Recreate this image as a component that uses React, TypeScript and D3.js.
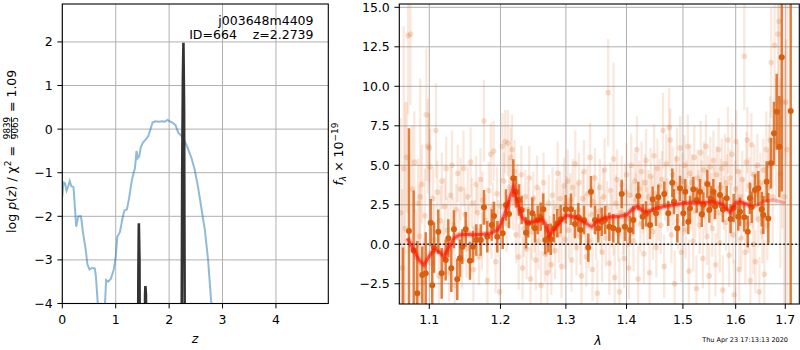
import React from 'react';
import * as d3 from 'd3';

// ---- left panel: redshift fit ----
const zGrid = [0.0, 0.02, 0.05, 0.08, 0.11, 0.14, 0.17, 0.21, 0.24, 0.26, 0.3, 0.35, 0.39, 0.44, 0.47, 0.51, 0.56, 0.61, 0.63, 0.67, 0.72, 0.77, 0.8, 0.82, 0.86, 0.91, 0.96, 1.0, 1.03, 1.08, 1.12, 1.16, 1.21, 1.25, 1.3, 1.34, 1.36, 1.39, 1.41, 1.44, 1.47, 1.51, 1.56, 1.61, 1.65, 1.69, 1.74, 1.81, 1.87, 1.92, 1.97, 2.01, 2.06, 2.12, 2.17, 2.22, 2.28, 2.34, 2.42, 2.48, 2.54, 2.6, 2.67, 2.73, 2.79, 2.85];
const chi2Curve = [-1.55, -1.22, -1.24, -1.41, -1.31, -1.19, -1.31, -1.33, -1.86, -2.24, -2.0, -2.0, -2.39, -2.78, -3.1, -3.22, -3.18, -3.2, -3.39, -4.1, -4.8, -4.6, -4.0, -3.46, -3.5, -3.43, -3.24, -2.93, -2.47, -2.36, -2.09, -1.87, -1.84, -1.59, -1.19, -0.98, -0.9, -0.5, -0.67, -0.63, -0.41, -0.31, -0.24, -0.16, -0.01, 0.15, 0.18, 0.17, 0.18, 0.17, 0.21, 0.18, 0.15, 0.09, -0.08, -0.14, -0.25, -0.41, -0.67, -0.94, -1.32, -1.78, -2.32, -3.01, -4.0, -5.0];

const pzZ = [0, 1.405, 1.425, 1.433, 1.445, 1.46, 1.535, 1.55, 1.556, 1.566, 1.58, 2.225, 2.245, 2.258, 2.268, 2.28, 2.3, 4.98];
const pzLog = [-8, -8, -3.2, -2.16, -3.0, -8, -8, -3.8, -3.6, -3.8, -8, -8, -1.0, 1.2, 1.98, 0.5, -8, -8];

const zTicks = [0, 1, 2, 3, 4];
const logpTicks = [-4, -3, -2, -1, 0, 1, 2];

// ---- right panel: spectrum ----
const waveTicks = [1.1, 1.2, 1.3, 1.4, 1.5, 1.6, 1.7];
const fluxTicks = [-2.5, 0, 2.5, 5, 7.5, 10, 12.5, 15];

const modelWave = [1.0708, 1.0796, 1.0862, 1.0929, 1.0996, 1.1063, 1.1131, 1.12, 1.1268, 1.1337, 1.1407, 1.1501, 1.1619, 1.1737, 1.1858, 1.1954, 1.1993, 1.2053, 1.2141, 1.219, 1.2241, 1.2316, 1.2391, 1.2492, 1.2621, 1.2672, 1.2739, 1.2828, 1.2933, 1.3013, 1.3145, 1.328, 1.3416, 1.3525, 1.3637, 1.3721, 1.3889, 1.4003, 1.41, 1.4187, 1.427, 1.4351, 1.4527, 1.4706, 1.5007, 1.5411, 1.5568, 1.576, 1.589, 1.6008, 1.6085, 1.6218, 1.6282, 1.642, 1.6549, 1.6754, 1.7];
const modelFlux = [0.38, -0.36, -0.99, -1.31, -0.78, -0.32, -0.47, -0.78, -0.15, 0.38, 0.59, 0.63, 0.59, 0.63, 0.69, 0.88, 1.15, 1.8, 3.0, 3.6, 2.8, 1.75, 1.37, 1.43, 1.58, 1.33, 0.55, 1.01, 1.54, 1.85, 1.71, 1.43, 1.11, 1.5, 1.7, 1.72, 1.78, 1.85, 2.2, 2.42, 2.15, 2.06, 2.28, 2.42, 2.59, 2.65, 2.7, 2.49, 2.02, 2.65, 2.7, 2.55, 2.42, 2.45, 2.72, 2.8, 2.62];
const modelFadeFrom = 1.6282;

// binned spectrum [wavelength, flux, error]
const binnedPoints = [
  [1.0652, -4.6, 4.4], [1.073, 0.84, 6.5], [1.0792, -0.4, 3.8], [1.084, -3.1, 3.3], [1.0906, -1.94, 1.8],
  [1.0952, -1.84, 2.6], [1.1019, 1.37, 1.5], [1.104, -2.6, 2.2], [1.1063, -0.2, 1.6], [1.1122, 0.8, 1.4],
  [1.1168, -1.84, 1.6], [1.1223, -0.99, 1.3], [1.1259, 0.38, 1.2], [1.13, -1.52, 1.5], [1.1337, 0.95, 1.2],
  [1.1383, -2.22, 1.3], [1.1421, -0.89, 1.2], [1.1453, -0.15, 1.1], [1.1501, 0.95, 1.1], [1.1561, -1.04, 1.2],
  [1.1604, -0.15, 1.0], [1.1651, 0.27, 1.0], [1.1714, 0.27, 1.0], [1.1761, 2.34, 1.1], [1.1809, 0.48, 1.0],
  [1.1872, 1.22, 1.0], [1.1906, 1.79, 0.9], [1.1954, 0.48, 1.0], [1.2033, 0.7, 1.0], [1.2082, 2.49, 1.0],
  [1.2126, 1.92, 0.9], [1.219, 4.18, 1.2], [1.223, 3.33, 1.0], [1.2275, 2.8, 1.0], [1.2316, 2.17, 0.9],
  [1.2381, 0.73, 1.0], [1.2416, 1.33, 0.9], [1.2477, 1.96, 1.0], [1.2518, 1.01, 0.9], [1.2559, 1.54, 0.9],
  [1.2605, 1.75, 0.9], [1.2646, 2.22, 1.0], [1.2677, 0.27, 0.9], [1.2723, 0.38, 0.9], [1.2761, 0.32, 1.0],
  [1.2812, 1.01, 0.9], [1.2864, 1.33, 0.9], [1.2918, 1.58, 0.9], [1.2997, 2.22, 0.9], [1.3081, 2.22, 1.0],
  [1.3145, 1.28, 0.9], [1.3199, 1.71, 0.9], [1.3237, 0.9, 0.9], [1.3291, 1.54, 0.9], [1.3361, -0.21, 0.9],
  [1.3405, 3.33, 1.0], [1.3471, 1.54, 0.9], [1.3525, 1.01, 0.9], [1.3582, 1.43, 0.9], [1.3637, 1.54, 0.9],
  [1.3709, 1.11, 0.9], [1.3776, 1.01, 0.9], [1.386, 0.9, 0.9], [1.3918, 3.18, 0.9], [1.3974, 1.11, 0.9],
  [1.406, 0.9, 0.9], [1.4117, 1.54, 0.9], [1.4203, 3.06, 0.9], [1.428, 1.75, 0.8], [1.4338, 1.92, 0.8],
  [1.4408, 1.22, 0.9], [1.4456, 2.85, 0.8], [1.4514, 1.96, 0.8], [1.4555, 2.97, 0.8], [1.4662, 3.18, 0.8],
  [1.4734, 1.96, 0.8], [1.4806, 3.9, 0.9], [1.4837, 2.7, 0.8], [1.4897, 1.01, 0.9], [1.4947, 3.54, 0.8],
  [1.5007, 1.96, 0.8], [1.5044, 3.33, 0.8], [1.5099, 1.43, 0.8], [1.513, 2.28, 0.8], [1.5192, 3.48, 0.8],
  [1.5255, 2.8, 0.8], [1.5317, 3.33, 0.8], [1.535, 1.9, 0.8], [1.5379, 2.5, 0.8], [1.5454, 3.82, 0.9],
  [1.5492, 2.17, 0.8], [1.552, 2.9, 0.8], [1.5568, 3.33, 0.8], [1.56, 2.4, 0.8], [1.5696, 3.12, 0.8],
  [1.575, 2.2, 0.8], [1.5825, 2.91, 0.8], [1.59, 1.6, 0.9], [1.596, 2.3, 0.9], [1.6051, 1.75, 0.9],
  [1.6085, 2.06, 0.9], [1.6169, 1.71, 0.9], [1.6237, 0.8, 1.0], [1.6282, 2.91, 1.0], [1.6316, 2.34, 1.0],
  [1.6382, 3.44, 1.0], [1.6449, 3.54, 1.1], [1.6517, 2.22, 1.1], [1.6549, 1.85, 1.2], [1.6618, 3.96, 1.3],
  [1.6651, 1.64, 1.6], [1.6706, 5.13, 1.6], [1.6767, 7.03, 2.0], [1.6823, 8.39, 2.4], [1.6877, 6.18, 3.2],
  [1.6926, 11.84, 8.5], [1.7113, 8.44, 20.0],
];

// individual exposures [wavelength, flux, error]
const faintPoints = [
  [1.062, 2.0, 6.0], [1.064, -1.5, 5.0], [1.066, 4.8, 9.0], [1.068, 1.0, 8.0], [1.07, 5.5, 3.5],
  [1.072, 13.2, 5.0], [1.075, 13.3, 4.5], [1.077, 3.5, 4.0], [1.08, 5.2, 3.2], [1.082, -0.8, 3.0],
  [1.085, 2.6, 2.8], [1.087, 0.5, 3.2], [1.088, 3.0, 7.5], [1.09, 3.8, 2.5], [1.092, -2.4, 2.8],
  [1.094, 1.8, 3.0], [1.096, 8.2, 4.2], [1.098, 6.2, 3.0], [1.1, 6.1, 2.2], [1.101, 4.9, 2.4],
  [1.103, -1.2, 2.2], [1.105, 2.9, 2.0], [1.107, 0.3, 2.2], [1.109, 7.2, 3.0], [1.111, 3.3, 2.0],
  [1.113, -2.0, 2.0], [1.115, 1.5, 2.2], [1.117, 4.0, 1.8], [1.119, -0.5, 2.0], [1.121, 2.4, 1.8],
  [1.123, 4.8, 2.0], [1.125, 0.9, 2.1], [1.127, -1.8, 1.8], [1.129, 3.1, 1.8], [1.131, 5.0, 2.2],
  [1.133, 1.2, 1.8], [1.135, -2.6, 2.0], [1.137, 2.2, 1.6], [1.139, 4.5, 1.8], [1.141, 0.4, 1.8],
  [1.143, 3.5, 2.0], [1.145, -1.0, 1.8], [1.147, 4.8, 2.4], [1.149, 1.9, 1.7], [1.151, -0.3, 1.8],
  [1.153, 3.0, 1.9], [1.155, 0.7, 1.8], [1.157, 5.2, 2.2], [1.159, 2.6, 1.6], [1.161, -1.6, 2.0],
  [1.163, 1.0, 1.8], [1.165, 3.8, 1.8], [1.167, 2.0, 1.7], [1.169, -0.8, 1.8], [1.171, 4.1, 2.0],
  [1.173, 0.2, 1.8], [1.174, 2.8, 1.8], [1.176, 7.8, 2.6], [1.179, 1.5, 1.7], [1.181, -2.3, 2.0],
  [1.183, 3.4, 1.8], [1.186, 5.7, 2.0], [1.187, 0.9, 1.8], [1.189, 2.3, 1.6], [1.19, 5.9, 1.9],
  [1.193, -1.1, 2.0], [1.195, 3.2, 1.7], [1.197, 1.0, 1.8], [1.199, -3.0, 2.2], [1.201, 2.4, 1.8],
  [1.203, 6.2, 2.1], [1.205, 4.0, 1.8], [1.207, 6.5, 2.0], [1.209, 1.3, 1.8], [1.211, 6.4, 2.1],
  [1.213, 3.6, 1.8], [1.215, 5.5, 1.9], [1.217, 6.0, 2.2], [1.219, 2.7, 1.8], [1.221, 4.6, 2.0],
  [1.223, 0.6, 1.8], [1.225, 3.3, 1.8], [1.227, -0.8, 2.1], [1.229, 2.1, 1.7], [1.231, 4.4, 1.8],
  [1.233, -1.5, 2.0], [1.235, 1.0, 1.8], [1.237, 3.0, 1.7], [1.239, -0.3, 1.9], [1.241, 2.2, 1.8],
  [1.243, 4.2, 2.0], [1.245, -2.2, 2.1], [1.247, 0.8, 1.8], [1.249, 2.9, 1.7], [1.251, 1.3, 1.8],
  [1.253, -1.0, 1.9], [1.255, 3.6, 2.0], [1.257, 0.2, 1.8], [1.259, 2.0, 1.6], [1.261, -2.6, 2.2],
  [1.263, 1.5, 1.8], [1.265, 3.9, 1.9], [1.267, -0.6, 1.8], [1.269, 0.9, 1.7], [1.271, -1.8, 2.0],
  [1.273, 2.6, 1.8], [1.275, 0.0, 1.8], [1.277, -1.3, 1.9], [1.279, 3.1, 1.8], [1.281, 1.1, 1.7],
  [1.283, -0.4, 1.8], [1.285, 2.3, 1.8], [1.287, 4.5, 2.0], [1.289, 0.6, 1.8], [1.291, 2.9, 1.7],
  [1.293, -1.4, 2.0], [1.295, 1.8, 1.8], [1.297, 3.7, 1.8], [1.299, 0.3, 1.9], [1.301, 2.5, 1.8],
  [1.303, 4.0, 2.0], [1.305, 0.9, 1.8], [1.307, 2.8, 1.7], [1.309, -1.0, 2.0], [1.311, 3.6, 1.8],
  [1.313, 1.7, 1.7], [1.315, 5.1, 2.1], [1.317, -0.2, 1.8], [1.319, 2.2, 1.7], [1.321, 3.9, 1.9],
  [1.323, 0.5, 1.8], [1.325, -2.0, 2.0], [1.327, 2.9, 1.7], [1.329, 4.6, 2.0], [1.331, 1.4, 1.8],
  [1.333, -0.8, 1.9], [1.335, 3.2, 1.8], [1.337, 0.2, 1.7], [1.339, 5.5, 2.2], [1.341, 1.9, 1.8],
  [1.343, -1.6, 2.0], [1.345, 2.7, 1.7], [1.347, 4.2, 1.9], [1.349, 0.8, 1.8], [1.351, -3.1, 2.1],
  [1.353, 2.1, 1.8], [1.355, 3.6, 1.8], [1.357, 1.2, 1.8], [1.359, -0.5, 1.9], [1.361, 3.0, 1.8],
  [1.363, 4.7, 2.0], [1.365, 0.4, 1.8], [1.367, 2.3, 1.7], [1.369, 9.6, 3.4], [1.371, -1.2, 2.0],
  [1.373, 3.4, 1.8], [1.375, 1.5, 1.7], [1.378, 5.4, 6.1], [1.38, -2.1, 2.0], [1.382, 2.6, 1.8],
  [1.384, 4.1, 1.9], [1.386, 0.7, 1.8], [1.388, -3.0, 2.1], [1.39, 2.0, 1.7], [1.392, 3.8, 1.8],
  [1.394, 1.1, 1.8], [1.396, -0.9, 1.9], [1.398, 3.3, 1.8], [1.4, 4.4, 2.0], [1.402, 1.6, 1.8],
  [1.404, -1.5, 2.0], [1.406, 3.1, 1.8], [1.408, 5.0, 2.0], [1.41, 2.2, 1.7], [1.412, 0.2, 1.9],
  [1.414, 4.0, 1.8], [1.416, 2.8, 1.7], [1.418, 6.0, 2.1], [1.42, -2.2, 2.1], [1.422, 3.5, 1.8],
  [1.424, 1.3, 1.8], [1.426, 4.6, 1.9], [1.428, 2.4, 1.7], [1.43, -0.6, 1.9], [1.432, 3.9, 1.8],
  [1.434, 5.3, 2.0], [1.436, 1.8, 1.8], [1.438, 3.0, 1.7], [1.44, -1.8, 2.0], [1.442, 4.3, 1.8],
  [1.444, 2.6, 1.7], [1.446, 0.8, 1.8], [1.448, 5.6, 2.0], [1.45, 3.2, 1.8], [1.452, -0.2, 1.9],
  [1.454, 4.8, 1.9], [1.456, 2.0, 1.8], [1.458, 3.7, 1.7], [1.46, 1.2, 1.8], [1.462, 4.1, 1.8],
  [1.464, 7.2, 2.4], [1.466, -1.4, 2.0], [1.468, 3.3, 1.8], [1.47, 5.1, 1.9], [1.472, 2.5, 1.7],
  [1.475, 7.4, 2.5], [1.477, 6.6, 2.0], [1.479, 0.6, 1.8], [1.481, 4.4, 1.8], [1.483, 2.9, 1.7],
  [1.485, -2.5, 2.1], [1.487, 3.8, 1.8], [1.489, 5.4, 2.0], [1.491, 1.5, 1.8], [1.493, 3.4, 1.7],
  [1.495, 6.1, 2.0], [1.497, -0.5, 1.9], [1.499, 4.0, 1.8], [1.501, 2.3, 1.7], [1.503, 5.0, 1.9],
  [1.505, 0.9, 1.8], [1.507, 3.6, 1.7], [1.509, 6.2, 2.0], [1.511, -1.7, 2.0], [1.513, 4.5, 1.8],
  [1.515, 2.7, 1.7], [1.517, 3.9, 1.8], [1.519, 0.2, 1.9], [1.521, 5.5, 2.0], [1.523, 2.1, 1.7],
  [1.525, -2.8, 2.1], [1.527, 4.2, 1.8], [1.529, 3.0, 1.7], [1.531, 1.2, 1.8], [1.533, 5.8, 2.0],
  [1.535, 3.5, 1.8], [1.537, -0.9, 1.9], [1.539, 4.7, 1.8], [1.541, 2.4, 1.7], [1.543, 6.2, 2.0],
  [1.545, 0.5, 1.8], [1.547, 3.8, 1.8], [1.549, -2.0, 2.0], [1.551, 4.9, 1.9], [1.553, 2.8, 1.7],
  [1.555, 1.0, 1.8], [1.557, 5.3, 1.9], [1.559, 3.3, 1.8], [1.561, -1.3, 2.0], [1.563, 4.4, 1.8],
  [1.565, 2.0, 1.7], [1.567, 6.0, 2.0], [1.569, 0.1, 1.9], [1.571, 3.6, 1.8], [1.573, 4.8, 1.9],
  [1.575, -2.9, 2.2], [1.577, 2.6, 1.7], [1.579, 5.1, 1.9], [1.581, 1.4, 1.8], [1.583, 3.9, 1.8],
  [1.585, 6.6, 2.1], [1.587, -0.7, 2.0], [1.589, 4.2, 1.8], [1.591, 2.2, 1.7], [1.593, 5.7, 2.0],
  [1.595, 0.6, 1.8], [1.597, -3.2, 2.2], [1.599, 3.5, 1.8], [1.601, 6.5, 2.0], [1.603, 1.9, 1.8],
  [1.605, 4.6, 1.8], [1.607, -1.6, 2.0], [1.609, 3.0, 1.7], [1.611, 0.4, 1.9], [1.613, 4.1, 1.8],
  [1.615, 2.5, 1.7], [1.617, 11.9, 3.4], [1.619, -0.5, 2.0], [1.621, 5.2, 1.9], [1.623, 6.6, 2.1],
  [1.625, 1.3, 1.8], [1.627, 3.7, 1.8], [1.629, -2.3, 2.1], [1.631, 6.3, 2.0], [1.633, 2.8, 1.8],
  [1.635, 0.0, 1.9], [1.637, 4.4, 1.9], [1.639, -1.1, 2.0], [1.641, 3.2, 1.8], [1.643, 5.0, 2.0],
  [1.645, 1.6, 1.8], [1.647, -3.0, 2.2], [1.649, 3.9, 1.9], [1.651, 2.1, 1.8], [1.653, 0.8, 2.0],
  [1.655, 4.7, 2.0], [1.657, -1.9, 2.2], [1.659, 2.9, 2.0], [1.661, 6.0, 2.4], [1.663, 1.2, 2.2],
  [1.665, 3.6, 2.3], [1.667, 5.0, 2.6], [1.669, 6.6, 2.8], [1.671, 11.5, 3.5], [1.674, 3.0, 3.0],
  [1.678, 12.6, 3.8], [1.681, 6.5, 4.0], [1.685, 13.3, 4.5], [1.687, 14.1, 5.0], [1.69, 4.5, 6.0],
  [1.694, 9.0, 8.0], [1.698, 3.0, 9.0], [1.701, 9.0, 4.0], [1.704, 6.0, 10.0],
];

const stamp = 'Thu Apr 23 17:13:13 2020';

const L = { x0: 62.3, x1: 328.3, y0: 4, y1: 303.5 };
const R = { x0: 399.3, x1: 799.3, y0: 4, y1: 304 };
const ORANGE = '#d95f0e';
const GRID = '#b0b0b0';
const FONT = 'DejaVu Sans';

export default function App() {
  const lx = d3.scaleLinear().domain([0, 4.98]).range([L.x0, L.x1]);
  const ly = d3.scaleLinear().domain([-4, 2.87]).range([L.y1, L.y0]);
  const rx = d3.scaleLog().domain([1.0604, 1.7294]).range([R.x0, R.x1]);
  const ry = d3.scaleLinear().domain([-3.78, 15.21]).range([R.y1, R.y0]);

  const chi2Path = d3.line<number>()
    .x((d) => lx(d))
    .y((_, i) => ly(chi2Curve[i]))(zGrid);
  const pzPath = d3.line<number>()
    .x((d) => lx(d))
    .y((_, i) => ly(pzLog[i]))(pzZ);

  const modelPts = modelWave.map((w, i) => [w, modelFlux[i]] as [number, number]);
  const mline = d3.line<[number, number]>().x((d) => rx(d[0])).y((d) => ry(d[1]));
  const modelMain = mline(modelPts.filter((d) => d[0] <= modelFadeFrom));
  const modelFade = mline(modelPts.filter((d) => d[0] >= modelFadeFrom));

  const fmtL = (v: number) => (v < 0 ? '\u2212' + Math.abs(v) : String(v));
  const fmtR = (v: number) => (v < 0 ? '\u2212' + Math.abs(v).toFixed(1) : v.toFixed(1));

  return (
    <svg width={800} height={350} style={{ position: 'absolute', left: 0, top: 0, background: '#fff' }} fontFamily={FONT}>
      <defs>
        <clipPath id="clipL"><rect x={L.x0} y={L.y0} width={L.x1 - L.x0} height={L.y1 - L.y0} /></clipPath>
        <clipPath id="clipR"><rect x={R.x0} y={R.y0} width={R.x1 - R.x0} height={R.y1 - R.y0} /></clipPath>
      </defs>

      {/* left panel */}
      <g stroke={GRID} strokeWidth={1}>
        {zTicks.map((t) => <line key={'gz' + t} x1={lx(t)} x2={lx(t)} y1={L.y0} y2={L.y1} />)}
        {logpTicks.map((t) => <line key={'gl' + t} x1={L.x0} x2={L.x1} y1={ly(t)} y2={ly(t)} />)}
      </g>
      <g clipPath="url(#clipL)">
        <path d={chi2Path || ''} fill="none" stroke="#1f77b4" strokeOpacity={0.5} strokeWidth={2} />
        <path d={pzPath || ''} fill="none" stroke="#333" strokeWidth={2.6} />
      </g>
      <rect x={L.x0} y={L.y0} width={L.x1 - L.x0} height={L.y1 - L.y0} fill="none" stroke="#000" strokeWidth={1.1} />
      <g fontSize={12.5} fill="#000">
        {zTicks.map((t) => (
          <g key={'tz' + t}>
            <line x1={lx(t)} x2={lx(t)} y1={L.y1} y2={L.y1 + 4.9} stroke="#000" />
            <text x={lx(t)} y={323.5} textAnchor="middle">{t}</text>
          </g>
        ))}
        {logpTicks.map((t) => (
          <g key={'tl' + t}>
            <line x1={L.x0 - 4.9} x2={L.x0} y1={ly(t)} y2={ly(t)} stroke="#000" />
            <text x={L.x0 - 9.5} y={ly(t) + 4.5} textAnchor="end">{fmtL(t)}</text>
          </g>
        ))}
        <text x={313.5} y={24.5} textAnchor="end">j003648m4409</text>
        <text x={313.5} y={39.3} textAnchor="end" style={{ whiteSpace: 'pre' }}>{'ID=664    z=2.2739'}</text>
        <text x={195} y={343.3} textAnchor="middle" fontStyle="italic">z</text>
        <g transform="translate(15.5,0) rotate(-90)">
          <text x={-146} y={0} textAnchor="end">
            log <tspan fontStyle="italic">p</tspan>(<tspan fontStyle="italic">z</tspan>) / χ<tspan fontSize={9} dy={-5}>2</tspan><tspan dy={5}> =</tspan>
          </text>
          <text x={-128} y={-5.6} textAnchor="middle" fontSize={8.8}>9839</text>
          <line x1={-139} x2={-117} y1={-4} y2={-4} stroke="#000" strokeWidth={0.7} />
          <text x={-128} y={2.8} textAnchor="middle" fontSize={8.8}>9065</text>
          <text x={-112} y={0} textAnchor="start">= 1.09</text>
        </g>
      </g>

      {/* right panel */}
      <g stroke={GRID} strokeWidth={1}>
        {waveTicks.map((t) => <line key={'gw' + t} x1={rx(t)} x2={rx(t)} y1={R.y0} y2={R.y1} />)}
        {fluxTicks.map((t) => <line key={'gf' + t} x1={R.x0} x2={R.x1} y1={ry(t)} y2={ry(t)} />)}
      </g>
      <g clipPath="url(#clipR)">
        <g stroke={ORANGE} strokeOpacity={0.14} strokeWidth={2.3}>
          {faintPoints.map((p, i) => (
            <line key={'fe' + i} x1={rx(p[0])} x2={rx(p[0])} y1={ry(p[1] - p[2])} y2={ry(p[1] + p[2])} />
          ))}
        </g>
        <g fill={ORANGE} fillOpacity={0.2}>
          {faintPoints.map((p, i) => <circle key={'fm' + i} cx={rx(p[0])} cy={ry(p[1])} r={2.8} />)}
        </g>
        <g stroke={ORANGE} strokeOpacity={0.8} strokeWidth={2.5}>
          {binnedPoints.map((p, i) => (
            <line key={'be' + i} x1={rx(p[0])} x2={rx(p[0])} y1={ry(p[1] - p[2])} y2={ry(p[1] + p[2])} />
          ))}
        </g>
        <g fill={ORANGE}>
          {binnedPoints.map((p, i) => <circle key={'bm' + i} cx={rx(p[0])} cy={ry(p[1])} r={3} />)}
        </g>
        <line x1={R.x0} x2={R.x1} y1={ry(0)} y2={ry(0)} stroke="#111" strokeWidth={1.6} strokeDasharray="1.6,2.4" />
        <path d={modelMain || ''} fill="none" stroke="#ff0000" strokeOpacity={0.2} strokeWidth={6} />
        <path d={modelMain || ''} fill="none" stroke="#ff1500" strokeOpacity={0.65} strokeWidth={3} />
        <path d={modelFade || ''} fill="none" stroke="#ff0000" strokeOpacity={0.3} strokeWidth={3.5} />
      </g>
      <rect x={R.x0} y={R.y0} width={R.x1 - R.x0} height={R.y1 - R.y0} fill="none" stroke="#000" strokeWidth={1.1} />
      <g fontSize={12.5} fill="#000">
        {waveTicks.map((t) => (
          <g key={'tw' + t}>
            <line x1={rx(t)} x2={rx(t)} y1={R.y1} y2={R.y1 + 4.9} stroke="#000" />
            <text x={rx(t)} y={323.5} textAnchor="middle">{t.toFixed(1)}</text>
          </g>
        ))}
        {fluxTicks.map((t) => (
          <g key={'tf' + t}>
            <line x1={R.x0 - 4.9} x2={R.x0} y1={ry(t)} y2={ry(t)} stroke="#000" />
            <text x={R.x0 - 9.5} y={ry(t) + 4.5} textAnchor="end">{fmtR(t)}</text>
          </g>
        ))}
        <text x={598} y={345} textAnchor="middle" fontStyle="italic">λ</text>
        <g transform="translate(343,0) rotate(-90)">
          <text x={-154} y={0} textAnchor="middle">
            <tspan fontStyle="italic">f</tspan>
            <tspan fontStyle="italic" fontSize={9} dy={3}>λ</tspan>
            <tspan dy={-3}> × 10</tspan>
            <tspan fontSize={9} dy={-5}>−19</tspan>
          </text>
        </g>
        <text x={788} y={342} textAnchor="end" fontSize={6.5}>{stamp}</text>
      </g>
    </svg>
  );
}
